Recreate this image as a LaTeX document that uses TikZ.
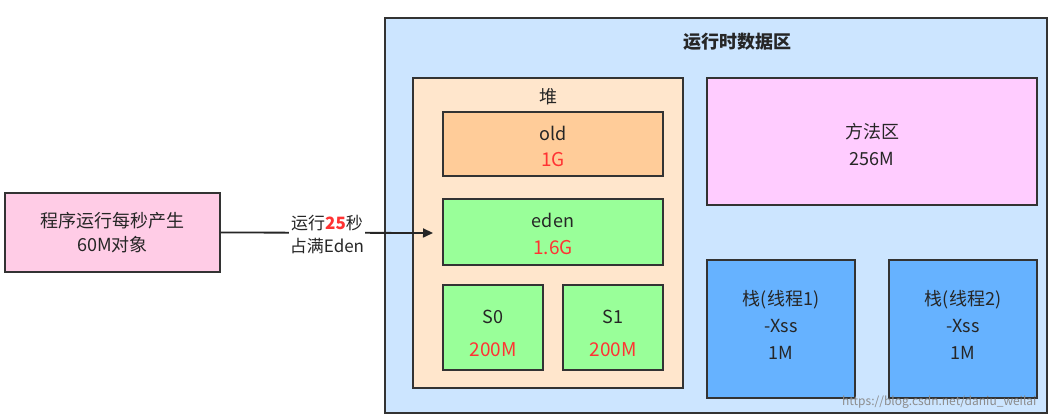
\documentclass[tikz,border=0pt]{standalone}
\usepackage{fontspec}
\setmainfont{Noto Sans CJK SC}
\usetikzlibrary{arrows.meta}
\definecolor{runbg}{HTML}{CCE5FF}
\definecolor{heapbg}{HTML}{FFE6CC}
\definecolor{oldbg}{HTML}{FFCC99}
\definecolor{grn}{HTML}{99FF99}
\definecolor{methbg}{HTML}{FFCCFF}
\definecolor{stk}{HTML}{66B2FF}
\definecolor{pinkbg}{HTML}{FFCCE6}
\definecolor{redt}{HTML}{FF3333}
\tikzset{box/.style={draw=black!80,line width=1.2pt,inner sep=0pt},
 txt/.style={font=\fontsize{18}{27}\selectfont,align=center,text=black!85},
 red/.style={font=\fontsize{19}{22}\selectfont,text=redt}}
\begin{document}
\begin{tikzpicture}[x=1pt,y=-1pt]
\useasboundingbox[fill=white] (0,0) rectangle (1060,419);
\draw[box,fill=runbg] (385,18) rectangle (1047,413);
\node[txt,font=\fontsize{18}{27}\selectfont\bfseries] (title) at (737,42) {运行时数据区};
\draw[box,fill=heapbg] (413,78) rectangle (683,388);
\coordinate (heapin) at (433,233);
\node[txt] (heapl) at (548,97) {堆};
\draw[box,fill=oldbg] (443,112) rectangle (663,176);
\node[txt] (oldl) at (553,133) {old};
\node[red] (oldv) at (553,160) {1G};
\draw[box,fill=grn] (443,199) rectangle (663,265);
\node[txt] (edl) at (553,220) {eden};
\node[red] (edv) at (553,248) {1.6G};
\draw[box,fill=grn] (443,285) rectangle (543,370);
\node[txt] (s0) at (493,317) {S0};
\node[red] (s0v) at (493,350) {200M};
\draw[box,fill=grn] (563,285) rectangle (663,370);
\node[txt] (s1) at (613,317) {S1};
\node[red] (s1v) at (613,350) {200M};
\draw[box,fill=methbg] (707,78) rectangle (1037,205);
\node[txt] (meth) at (872,145) {方法区\\256M};
\draw[box,fill=stk] (707,260) rectangle (855,398);
\node[txt] (st1) at (781,325) {栈(线程1)\\-Xss\\1M};
\draw[box,fill=stk] (889,260) rectangle (1037,398);
\node[txt] (st2) at (963,325) {栈(线程2)\\-Xss\\1M};
\node[box,fill=pinkbg,minimum width=215pt,minimum height=79pt,txt,font=\fontsize{18}{24}\selectfont] (prog) at (112.5,232.5) {程序运行每秒产生\\60M对象};
\draw[line width=1.8pt,black!85,-{Triangle[length=10pt,width=9pt]}] (prog.east) -- (heapin);
\node[txt,font=\fontsize{17}{23}\selectfont,fill=white,inner sep=1pt] (lab) at (327,235) {运行\textcolor{redt}{\bfseries 25}秒\\占满Eden};
\node[font=\fontsize{12}{14}\selectfont,text=black!45,anchor=east] (wm) at (1040,402) {https://blog.csdn.net/daniu\_weilai};
\end{tikzpicture}
\end{document}
